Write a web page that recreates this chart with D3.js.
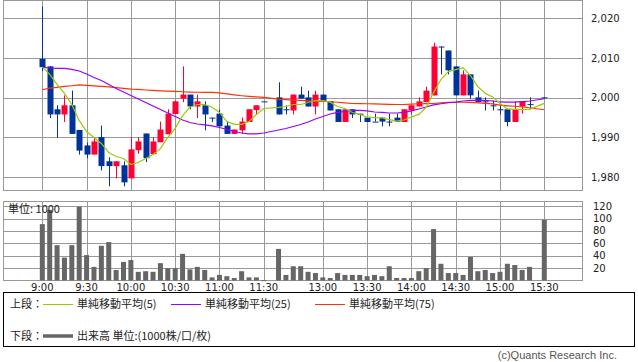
<!DOCTYPE html>
<html>
<head>
<meta charset="utf-8">
<script src="https://cdn.jsdelivr.net/npm/d3@7"></script>
<style>
  body { margin: 0; background: #fff; }
  text { font-family: "Noto Sans CJK JP", "Noto Sans", sans-serif; font-size: 11px; fill: #222; }
  text.num { font-family: "DejaVu Sans", sans-serif; font-size: 10px; }
  text.copy { font-family: "Liberation Sans", sans-serif; font-size: 11px; fill: #555; }
</style>
</head>
<body>
<div id="chart"></div>
<script>
const width = 638,
      height = 362;

// 5-minute slots, "" is the lunch spacer
const times = ["9:00","9:05","9:10","9:15","9:20","9:25","9:30","9:35","9:40","9:45","9:50","9:55",
  "10:00","10:05","10:10","10:15","10:20","10:25","10:30","10:35","10:40","10:45","10:50","10:55",
  "11:00","11:05","11:10","11:15","11:20","11:25","11:30","",
  "12:30","12:35","12:40","12:45","12:50","12:55",
  "13:00","13:05","13:10","13:15","13:20","13:25","13:30","13:35","13:40","13:45","13:50","13:55",
  "14:00","14:05","14:10","14:15","14:20","14:25","14:30","14:35","14:40","14:45","14:50","14:55",
  "15:00","15:05","15:10","15:15","15:20","15:25","15:30"];

const open  = [2009.8,2007.9,1997.1,1995.8,1998.1,1991.9,1988.0,1985.7,1990.1,1984.0,1982.8,1983.0,
  1979.7,1986.8,1991.0,1985.8,1988.8,1990.8,1995.9,1999.8,2000.8,1997.8,1998.1,1995.0,
  1996.0,1993.0,1990.9,1991.8,1993.9,1996.9,1999.1,null,
  2000.1,1997.1,1996.8,2000.8,2000.1,1997.8,
  2000.8,1999.1,1997.1,1993.9,1997.1,1996.0,1995.0,1994.0,1995.0,1994.0,1995.0,1993.9,
  1996.8,1997.8,1998.9,2000.6,2012.9,2011.9,2007.9,2000.6,2005.9,2000.1,1999.1,1998.1,
  1997.1,1997.1,1993.9,1997.8,1998.4,null,2000.1];
const high  = [2023.0,2008.0,1998.1,2000.6,2001.8,1991.9,1988.7,1990.1,1993.0,1985.0,1984.0,1984.0,
  1990.1,1990.1,1991.0,1990.1,1994.0,1997.1,1999.3,2007.9,2000.8,2000.8,1999.1,1995.0,
  1997.0,1994.0,1992.0,1995.0,1997.1,1998.1,1999.1,null,
  2003.9,1998.1,2000.8,2002.8,2001.8,2001.8,
  2000.8,1999.1,1997.1,1997.1,1997.1,1996.0,1995.0,1996.0,1995.0,1996.0,1996.0,1997.1,
  1998.1,2000.1,2002.8,2013.9,2012.9,2011.9,2007.9,2006.9,2005.9,2001.8,2000.1,1999.3,
  1998.1,1997.1,1999.1,1999.1,2000.1,null,2000.1];
const low   = [2006.7,1994.9,1989.9,1993.9,1990.9,1985.7,1984.8,1985.7,1981.7,1977.7,1979.7,1977.7,
  1979.7,1985.9,1983.8,1985.8,1988.8,1990.8,1995.9,1998.9,1997.1,1994.9,1991.8,1993.9,
  1992.8,1990.9,1990.9,1990.9,1993.9,1995.9,1999.1,null,
  1995.8,1995.8,1995.8,1999.8,1997.8,1995.8,
  1999.1,1996.8,1993.9,1993.9,1994.9,1993.9,1993.9,1994.0,1992.8,1992.8,1994.0,1993.9,
  1995.8,1997.8,1998.9,2000.6,2005.9,2005.9,2000.6,2000.6,1999.8,1998.9,1996.8,1996.8,
  1995.8,1992.8,1993.9,1996.0,1997.1,null,1999.8];
const close = [2007.7,1995.8,1995.8,1998.1,1990.9,1986.7,1985.7,1989.0,1982.8,1982.8,1984.0,1978.7,
  1987.0,1989.0,1984.8,1989.0,1992.0,1996.0,1999.1,2000.8,1997.8,1999.1,1995.8,1995.0,
  1992.8,1990.9,1992.0,1994.0,1997.1,1998.1,1999.1,null,
  1995.8,1997.1,2000.8,1999.8,1997.8,2000.8,
  1999.1,1996.8,1993.9,1997.1,1995.8,1996.0,1993.9,1994.0,1994.0,1994.0,1994.0,1997.1,
  1998.1,1999.1,2001.8,2012.9,2012.7,2006.9,2000.6,2005.9,2000.6,1998.9,1999.1,1998.1,
  1997.1,1993.9,1997.1,1999.1,1998.4,null,2000.1];

const volume = [91,114,57,37,57,119,41,22,56,62,17,30,
  33,14,15,14,28,20,20,43,18,22,17,5,
  9,7,4,15,5,5,0.6,null,
  51,9,23,23,14,12,
  5,4,12,9,9,9,7,9,7,23,4,4,
  4,15,20,83,27,12,12,9,38,15,17,12,
  14,27,25,17,22,null,98];

const ma5 = [2007.7,2005.9,2003.4,2001.1,1998.3,1994.3,1991.5,1990.0,1988.5,1986.2,1985.2,1984.7,
  1983.2,1983.7,1984.7,1985.7,1987.2,1990.0,1992.3,1995.5,1997.6,1998.3,1998.3,1997.6,
  1996.3,1994.0,1993.3,1993.3,1994.0,1995.8,1997.3,null,
  1997.6,1997.8,1998.3,1998.3,1998.8,1999.3,
  1999.3,1998.9,1997.8,1997.3,1996.3,1995.8,1995.1,1995.0,1994.9,1994.5,1994.1,1994.4,
  1995.2,1995.8,1997.6,2001.3,2004.6,2006.6,2007.1,2007.6,2005.6,2002.8,2001.1,2000.2,
  1998.6,1997.2,1997.1,1997.1,1997.1,null,1998.6];
const ma25 = [2007.63,2007.5,2007.38,2007.38,2007.13,2006.75,2006.0,2005.11,2004.36,2003.35,2002.34,2001.46,
  2000.58,1999.7,1998.82,1997.93,1997.05,1996.17,1995.29,1994.41,1993.78,1993.4,1993.15,1992.9,
  1992.52,1992.02,1991.51,1991.13,1990.93,1990.93,1991.13,null,
  1991.89,1992.27,1992.77,1993.27,1993.9,1994.66,
  1995.29,1995.92,1996.3,1996.55,1996.8,1996.8,1996.68,1996.42,1996.3,1996.17,1996.17,1996.3,
  1996.68,1997.18,1997.68,1998.19,1998.49,1998.74,1998.89,1999.19,1999.32,1999.32,1999.32,1999.19,
  1998.94,1998.89,1998.89,1999.02,1999.19,null,1999.75];
const ma75 = [2002.02,2002.44,2002.64,2002.85,2003.02,2003.22,2003.1,2002.97,2002.85,2002.72,2002.54,2002.34,
  2002.17,2002.09,2001.96,2001.84,2001.74,2001.66,2001.59,2001.51,2001.44,2001.39,2001.34,2001.34,
  2001.21,2000.96,2000.71,2000.5,2000.33,2000.2,2000.08,null,
  1999.65,1999.52,1999.42,1999.32,1999.24,1999.17,
  1999.09,1998.99,1998.87,1998.69,1998.56,1998.51,1998.49,1998.44,1998.39,1998.34,1998.31,1998.31,
  1998.41,1998.49,1998.51,1998.56,1998.69,1998.82,1998.87,1998.87,1998.82,1998.72,1998.59,1998.44,
  1998.14,1997.98,1997.86,1997.68,1997.48,null,1996.98];

const timeTicks = ["9:00","9:30","10:00","10:30","11:00","11:30","13:00","13:30","14:00","14:30","15:00","15:30"];
const priceTicks = [1980, 1990, 2000, 2010, 2020];
const volumeTicks = [20, 40, 60, 80, 100, 120];

const legendTop = [
  {label: "単純移動平均(5)", color: "#99cc00"},
  {label: "単純移動平均(25)", color: "#9900ff"},
  {label: "単純移動平均(75)", color: "#ff3300"}
];

const upColor = "#ff0033",
      downColor = "#003399",
      gridColor = "#999";

const svg = d3.select("#chart")
  .append("svg")
  .attr("width", width)
  .attr("height", height);

svg.append("rect").attr("width", width).attr("height", height).attr("fill", "#fff");

const left = 3.5, right = 582.5;
const priceTop = 0.5, priceBottom = 190.5;
const volTop = 201.5, volBottom = 280.5;

const x = d3.scalePoint().domain(times).range([42.3, 544.3]);
const y = d3.scaleLinear().domain([1976.65, 2024.49]).range([priceBottom, priceTop]);
const yv = d3.scaleLinear().domain([0, 127.5]).range([volBottom, volTop]);

const bars = times.map(function (t, i) {
  return {t: t, o: open[i], h: high[i], l: low[i], c: close[i], v: volume[i]};
});

// panels and grids
function panel(top, bottom, ticks, scale) {
  const g = svg.append("g");
  g.selectAll(".hgrid")
    .data(ticks)
    .enter().append("line")
    .attr("x1", left).attr("x2", right)
    .attr("y1", d => Math.round(scale(d)) + 0.5)
    .attr("y2", d => Math.round(scale(d)) + 0.5)
    .attr("stroke", gridColor);
  g.selectAll(".vgrid")
    .data(timeTicks)
    .enter().append("line")
    .attr("x1", d => Math.round(x(d)) + 0.5)
    .attr("x2", d => Math.round(x(d)) + 0.5)
    .attr("y1", top).attr("y2", bottom)
    .attr("stroke", gridColor);
  g.append("rect")
    .attr("x", left).attr("y", top)
    .attr("width", right - left).attr("height", bottom - top)
    .attr("fill", "none")
    .attr("stroke", gridColor);
}
panel(priceTop, priceBottom, priceTicks, y);
panel(volTop, volBottom, volumeTicks, yv);

// axis labels
svg.selectAll(".plabel")
  .data(priceTicks)
  .enter().append("text")
  .attr("class", "num")
  .attr("x", 591)
  .attr("y", d => y(d))
  .attr("dy", "0.35em")
  .text(d3.format(","));

svg.selectAll(".vlabel")
  .data(volumeTicks)
  .enter().append("text")
  .attr("class", "num")
  .attr("x", 593)
  .attr("y", d => yv(d))
  .attr("dy", "0.35em")
  .text(d => d);

svg.selectAll(".tlabel")
  .data(timeTicks)
  .enter().append("text")
  .attr("class", "num")
  .attr("x", d => x(d))
  .attr("y", 287)
  .attr("dy", "0.35em")
  .attr("text-anchor", "middle")
  .text(d => d);

// volume
svg.selectAll(".vol")
  .data(bars.filter(d => d.v != null))
  .enter().append("rect")
  .attr("x", d => x(d.t) - 2.5)
  .attr("width", 5)
  .attr("y", d => yv(d.v))
  .attr("height", d => Math.max(1, volBottom - yv(d.v)))
  .attr("fill", "#666");

svg.append("text")
  .attr("x", 8).attr("y", 209)
  .attr("dy", "0.35em")
  .text("単位: 1000");

// candles
const candle = svg.selectAll(".candle")
  .data(bars.filter(d => d.o != null))
  .enter().append("g")
  .attr("class", "candle");

candle.append("line")
  .attr("x1", d => Math.round(x(d.t)) + 0.5)
  .attr("x2", d => Math.round(x(d.t)) + 0.5)
  .attr("y1", d => y(d.h))
  .attr("y2", d => y(d.l))
  .attr("stroke", d => d.c > d.o ? upColor : downColor);

candle.append("rect")
  .attr("x", d => Math.round(x(d.t)) - 2.5)
  .attr("width", 6)
  .attr("y", d => y(Math.max(d.o, d.c)))
  .attr("height", d => Math.max(1, y(Math.min(d.o, d.c)) - y(Math.max(d.o, d.c))))
  .attr("fill", d => d.c > d.o ? upColor : downColor);

// moving averages
function maLine(values, color) {
  const pts = times.map((t, i) => [t, values[i]]).filter(d => d[1] != null);
  svg.append("path")
    .datum(pts)
    .attr("fill", "none")
    .attr("stroke", color)
    .attr("stroke-width", 1.2)
    .attr("d", d3.line().x(d => x(d[0])).y(d => y(d[1])));
}
maLine(ma75, legendTop[2].color);
maLine(ma25, legendTop[1].color);
maLine(ma5, legendTop[0].color);

// legend
svg.append("rect")
  .attr("x", 3.5).attr("y", 292.5)
  .attr("width", 631).attr("height", 54)
  .attr("fill", "none")
  .attr("stroke", "#000");

svg.append("text").attr("x", 10).attr("y", 304).attr("dy", "0.35em").text("上段：");
const lx = [43, 171, 315];
legendTop.forEach(function (d, i) {
  svg.append("line")
    .attr("x1", lx[i]).attr("x2", lx[i] + 30)
    .attr("y1", 304.5).attr("y2", 304.5)
    .attr("stroke", d.color);
  svg.append("text")
    .attr("x", lx[i] + 34).attr("y", 304).attr("dy", "0.35em")
    .text(d.label);
});

svg.append("text").attr("x", 10).attr("y", 336).attr("dy", "0.35em").text("下段：");
svg.append("line")
  .attr("x1", 43).attr("x2", 73)
  .attr("y1", 336).attr("y2", 336)
  .attr("stroke", "#666").attr("stroke-width", 3.5);
svg.append("text").attr("x", 77).attr("y", 336).attr("dy", "0.35em").text("出来高 単位:(1000株/口/枚)");

svg.append("text")
  .attr("class", "copy")
  .attr("x", 617).attr("y", 359)
  .attr("text-anchor", "end")
  .text("(c)Quants Research Inc.");
</script>
</body>
</html>
